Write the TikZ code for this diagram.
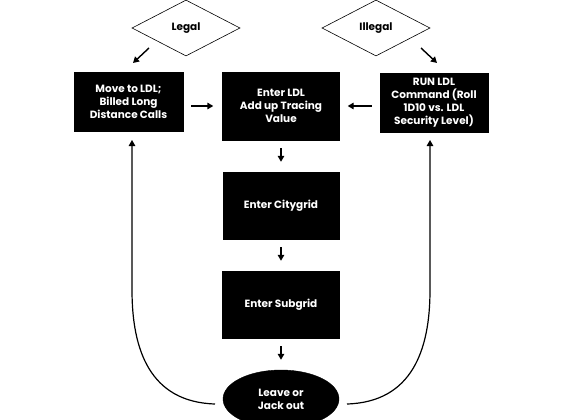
\documentclass[tikz,border=0pt]{standalone}
\usepackage{fontspec}
\setmainfont{Poppins}
\usetikzlibrary{shapes.geometric,arrows.meta}
\begin{document}
\begin{tikzpicture}[x=1pt,y=-1pt,
  box/.style={fill=black,draw=black,text=white,inner sep=0pt,align=center,font=\bfseries\fontsize{10.5}{13}\selectfont},
  dia/.style={diamond,draw=black,line width=0.6pt,minimum width=108pt,minimum height=56pt,inner sep=0pt,aspect=1.93,font=\bfseries\fontsize{10.5}{13}\selectfont},
  arr/.style={line width=1.4pt,-{Triangle[length=6pt,width=6.5pt]}},
  loop/.style={line width=1.2pt,-{Triangle[length=6pt,width=6.5pt]}}]
\useasboundingbox (0,0) rectangle (562,420);
\node[dia] (legal) at (186,28) {Legal};
\node[dia] (illegal) at (376,28) {Illegal};
\node[box,minimum width=109pt,minimum height=59pt] (move) at (128.5,101.5) {Move to LDL;\\Billed Long\\Distance Calls};
\node[box,minimum width=117pt,minimum height=68pt] (ldl) at (281,106) {Enter LDL\\Add up Tracing\\Value};
\node[box,minimum width=108pt,minimum height=59pt] (run) at (434,102.5) {RUN LDL\\Command (Roll\\1D10 vs. LDL\\Security Level)};
\node[box,minimum width=116pt,minimum height=67pt] (city) at (281,205.5) {Enter Citygrid};
\node[box,minimum width=117pt,minimum height=67pt] (sub) at (281,304.5) {Enter Subgrid};
\node[box,ellipse,minimum width=116pt,minimum height=58pt] (jack) at (281,399) {Leave or\\Jack out};
\coordinate (la) at (149,48);
\coordinate (lb) at (133,63);
\coordinate (ia) at (421,48);
\coordinate (ib) at (437,63);
\draw[arr] (la) -- (lb);
\draw[arr] (ia) -- (ib);
\draw[arr,shorten <=8pt,shorten >=9pt] (move.east|-ldl) -- (ldl.west);
\draw[arr,shorten <=8pt,shorten >=8pt] (run.west|-ldl) -- (ldl.east);
\draw[arr,shorten <=8pt,shorten >=10pt] (ldl) -- (city);
\draw[arr,shorten <=8pt,shorten >=10pt] (city) -- (sub);
\draw[arr,shorten <=8pt,shorten >=10pt] (sub) -- (jack);
\coordinate (ls) at (215,404);
\coordinate (lt) at (132,140);
\coordinate (rs) at (347,404);
\coordinate (rt) at (430,140);
\draw[loop] (ls) .. controls (150,402) and (132,350) .. (132,290) -- (lt);
\draw[loop] (rs) .. controls (412,402) and (430,350) .. (430,290) -- (rt);
\end{tikzpicture}
\end{document}
